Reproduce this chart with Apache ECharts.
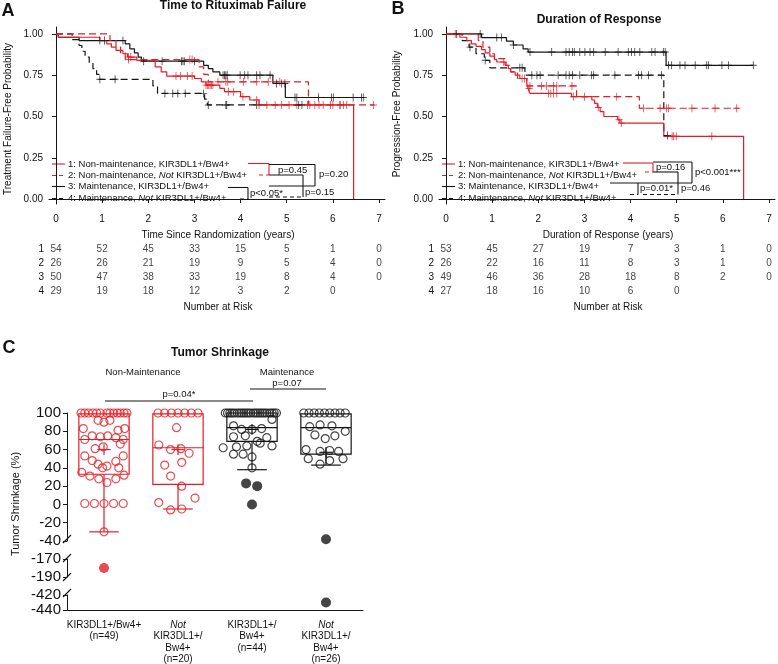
<!DOCTYPE html>
<html><head><meta charset="utf-8">
<script src="https://cdn.jsdelivr.net/npm/echarts@6/dist/echarts.min.js"></script>
<style>html,body{margin:0;padding:0;background:#fff}#c{width:778px;height:664px}</style>
</head><body><div id="c"></div>
<script>
// ---------- DATA ----------
// Panel A: Time to Rituximab Failure (Kaplan-Meier steps [years, probability]; censor times)
const aSteps1 = [[0,1],[0.05,0.98],[0.95,0.96],[1.1,0.94],[1.2,0.92],[1.3,0.9],[1.45,0.88],[1.55,0.86],[1.75,0.84],[2.15,0.8],[2.28,0.77],[2.4,0.745],[3.0,0.73],[3.15,0.71],[3.25,0.69],[3.55,0.67],[3.65,0.65],[4.0,0.62],[4.2,0.6],[4.4,0.57],[6.45,0]];
const aCens1 = [1.57,1.62,2.6,2.7,2.85,2.95,3.25,3.28,3.31,3.34,3.37,3.4,3.74,3.85,4.05,4.35,4.4,4.57,4.75,4.89,5.05,5.22,5.45,5.61,5.79,6.0,6.16,6.23,6.3];
const aSteps2 = [[0,1],[1.17,0.96],[1.3,0.92],[1.4,0.885],[1.5,0.845],[3.1,0.8],[3.2,0.755],[3.3,0.71],[5.47,0.57],[6.9,0.57]];
const aCens2 = [1.57,2.9,2.95,3.51,3.68,3.72,4.06,4.35,4.6,4.85,5.5,5.7,5.95,6.15,6.88];
const aSteps3 = [[0,1],[0.05,0.98],[0.5,0.96],[1.5,0.94],[1.6,0.91],[1.7,0.885],[1.78,0.86],[1.85,0.835],[3.2,0.81],[3.3,0.79],[3.4,0.77],[3.55,0.75],[4.7,0.7],[4.97,0.615],[6.7,0.615]];
const aCens3 = [0.95,1.05,1.45,1.9,2.3,2.72,2.75,2.78,3.0,3.62,3.65,3.68,3.71,3.99,4.09,4.16,4.35,4.42,4.64,4.78,4.89,4.96,5.18,5.22,5.69,5.97,6.01,6.44,6.62,6.66];
const aSteps4 = [[0,1],[0.35,0.965],[0.5,0.93],[0.56,0.895],[0.63,0.86],[0.72,0.825],[0.8,0.79],[0.88,0.755],[0.93,0.725],[2.1,0.685],[2.2,0.64],[3.22,0.605],[3.28,0.57],[5.35,0.57]];
const aCens4 = [0.95,1.28,2.36,2.53,2.64,2.8,3.2,3.3,3.68,3.7,4.35,5.26,5.33];
const aRisk = [[54,52,45,33,15,5,1,0],[26,26,21,19,9,5,4,0],[50,47,38,33,19,8,4,0],[29,19,18,12,3,2,0]];

// Panel B: Duration of Response
const bSteps1 = [[0,1],[0.3,0.98],[0.45,0.96],[0.55,0.94],[0.65,0.925],[0.77,0.905],[0.85,0.885],[0.95,0.865],[1.05,0.845],[1.1,0.83],[1.28,0.81],[1.35,0.79],[1.4,0.77],[1.5,0.75],[1.6,0.73],[1.75,0.7],[1.78,0.67],[1.82,0.64],[2.72,0.62],[3.16,0.6],[3.22,0.58],[3.28,0.555],[3.34,0.53],[3.42,0.5],[3.72,0.48],[3.77,0.46],[4.72,0.38],[6.45,0]];
const bCens1 = [0.2,1.25,1.7,1.8,2.22,2.27,2.33,2.4,2.76,3.0,3.3,3.75,3.8,4.9,4.93,4.99,5.76];
const bSteps2 = [[0,1],[0.7,0.96],[0.8,0.92],[0.95,0.88],[1.05,0.85],[1.3,0.81],[1.4,0.77],[1.55,0.73],[1.75,0.685],[2.83,0.62],[4.19,0.55],[6.35,0.55]];
const bCens2 = [1.65,1.82,2.07,2.18,2.33,2.4,2.73,3.7,4.28,4.64,4.78,4.82,5.33,5.83,6.3];
const bSteps3 = [[0,1],[0.77,0.978],[1.31,0.956],[1.46,0.933],[1.67,0.91],[1.78,0.89],[4.77,0.81],[6.66,0.81]];
const bCens3 = [0.23,0.74,1.1,1.2,1.46,1.82,2.29,2.6,2.67,2.74,2.78,2.9,3.01,3.12,3.2,3.45,3.73,3.95,4.02,4.09,4.2,4.46,4.53,4.71,4.75,4.82,4.89,5.07,5.18,5.4,5.65,5.69,5.98,6.12,6.66];
const bSteps4 = [[0,1],[0.35,0.96],[0.5,0.92],[0.65,0.88],[0.83,0.84],[0.95,0.795],[1.71,0.75],[4.72,0.385],[4.8,0.385]];
const bCens4 = [0.52,0.85,1.6,1.65,1.86,1.97,2.04,2.43,2.6,2.67,2.74,2.9,3.15,3.2,3.66,4.17,4.24,4.39,4.67,4.8];
const bRisk = [[53,45,27,19,7,3,1,0],[26,22,16,11,8,3,1,0],[49,46,36,28,18,8,2,0],[27,18,16,10,6,0]];

const riskTimes = [0,1,2,3,4,5,6,7];
const riskRows = ['1','2','3','4'];
const kmXTicks = [0,1,2,3,4,5,6,7];
const kmYTicks = [0,0.25,0.5,0.75,1];
const legendLabels = ['1: Non-maintenance, KIR3DL1+/Bw4+','2: Non-maintenance, {i|Not} KIR3DL1+/Bw4+','3: Maintenance, KIR3DL1+/Bw4+','4: Maintenance, {i|Not} KIR3DL1+/Bw4+'];

// Panel C: Tumor Shrinkage, points as [jitter offset in group units, % shrinkage]
const cG1Open = [[-0.31,100],[-0.26,100],[-0.21,100],[-0.15,100],[-0.1,100],[-0.05,100],[0.04,100],[0.08,100],[0.13,100],[0.18,100],[0.22,100],[0.27,100],[0.31,100],[-0.08,92],[0,90],[0.08,92],[-0.28,83],[0.19,81],[0.28,83],[-0.16,75],[-0.05,74],[0.05,75],[0.16,73],[-0.26,71],[0.26,71],[-0.12,61],[-0.01,63],[0.22,66],[-0.26,53],[0.26,53],[-0.16,48],[0.16,47],[-0.08,44],[0.04,42],[-0.02,40],[0.2,40],[-0.3,35],[-0.19,31],[-0.07,28],[0.04,24],[0.16,28],[0.27,32],[-0.26,1],[-0.13,1],[0,1],[0.13,1],[0.26,1],[0,-30]];
const cG1Out = [[0,-180]];
const cG2Open = [[-0.27,100],[-0.18,100],[-0.09,100],[0,100],[0.09,100],[0.18,100],[0.27,100],[-0.02,84],[-0.26,65],[-0.1,60],[0.04,61],[0.15,56],[-0.18,43],[0.05,46],[-0.1,31],[0.05,20],[-0.26,2],[0.23,7],[-0.1,-6],[0.05,-5]];
const cG3Open = [[-0.36,100],[-0.33,100],[-0.3,100],[-0.27,100],[-0.24,100],[-0.2,100],[-0.17,100],[-0.14,100],[-0.11,100],[-0.08,100],[-0.05,100],[-0.02,100],[0.02,100],[0.05,100],[0.08,100],[0.11,100],[0.14,100],[0.17,100],[0.2,100],[0.24,100],[0.27,100],[0.3,100],[0.33,100],[0.27,93],[-0.25,86],[-0.14,82],[0,82],[0.13,83],[-0.25,74],[-0.09,75],[0.07,69],[0.2,73],[0.27,64],[-0.39,62],[-0.21,63],[-0.07,64],[0.11,67],[-0.25,55],[-0.12,55],[0,52],[0,40]];
const cG3Out = [[-0.08,23],[0.07,20],[0,0]];
const cG4Open = [[-0.3,100],[-0.23,100],[-0.16,100],[-0.09,100],[-0.02,100],[0.05,100],[0.12,100],[0.19,100],[0.26,100],[-0.22,85],[-0.08,87],[0.08,86],[-0.15,76],[-0.01,72],[0.12,75],[0.26,80],[-0.27,60],[-0.08,58],[0.05,59],[0.17,58],[-0.24,50],[-0.08,44],[0.05,48],[0.23,50]];
const cG4Out = [[0,-38],[0,-430]];
const cBoxMin = [-30,-5,38,43];
const cBoxQ1 = [33,22,69,55];
const cBoxMed = [71,62,84,84];
const cBoxQ3 = [99,99,100,99];
const cBoxMax = [100,100,100,100];
const cBoxMean = [60,60,82,57];
const cCatLabels = ['KIR3DL1+/Bw4+\n(n=49)','{i|Not}\nKIR3DL1+/\nBw4+\n(n=20)','KIR3DL1+/\nBw4+\n(n=44)','{i|Not}\nKIR3DL1+/\nBw4+\n(n=26)'];
const cYTicks1 = [-40,-20,0,20,40,60,80,100];
const cYTicks2 = [-190,-170];
const cYTicks3 = [-440,-420];

// ---------- STYLE / BUILD ----------
const RED = '#e41e26', BLK = '#161616';
const FF = 'Liberation Sans, Arial, Helvetica, sans-serif';
const curveColors = [RED, RED, BLK, BLK];
const curveDash = [false, true, false, true];
const plusPath = 'path://M4.4,0H5.6V10H4.4Z M0,4.4H10V5.6H0Z';

function survAt(steps, t) { let s = steps[0][1]; for (const p of steps) { if (p[0] <= t) s = p[1]; else break; } return s; }

const chart = echarts.init(document.getElementById('c'), null, {renderer: 'canvas', width: 778, height: 664});

const grids = [
  {left: 49, top: 27, width: 336, height: 177},
  {left: 49, top: 242, width: 336, height: 56},
  {left: 439, top: 27, width: 336, height: 177},
  {left: 439, top: 242, width: 336, height: 56},
  {left: 67, top: 413, width: 296, height: 128},
  {left: 67, top: 559, width: 296, height: 18},
  {left: 67, top: 595, width: 296, height: 15}
].map(g => Object.assign({containLabel: false, outerBoundsMode: 'none', show: false}, g));

const axLine = {show: true, lineStyle: {color: BLK, width: 1}};
function kmX(gi) {
  return {type: 'value', gridIndex: gi, min: -0.152, max: 7.13, splitLine: {show: false},
    axisLine: axLine, axisTick: {show: true, inside: false, length: 4, customValues: kmXTicks, lineStyle: {color: BLK}},
    axisLabel: {customValues: kmXTicks, margin: 10, fontSize: 10, color: '#111', fontFamily: FF}};
}
function kmY(gi) {
  return {type: 'value', gridIndex: gi, min: -0.03, max: 1.042, splitLine: {show: false},
    axisLine: axLine, axisTick: {show: true, inside: false, length: 4, customValues: kmYTicks, lineStyle: {color: BLK}},
    axisLabel: {customValues: kmYTicks, margin: 6, fontSize: 10, color: '#111', fontFamily: FF, formatter: v => Number(v).toFixed(2)}};
}
function hiddenX(gi, min, max) { return {type: 'value', gridIndex: gi, min, max, show: false}; }
function riskY(gi) {
  return {type: 'category', gridIndex: gi, data: riskRows, inverse: true, axisLine: {show: false}, axisTick: {show: false},
    splitLine: {show: false}, axisLabel: {margin: 5, fontSize: 10, color: '#111', fontFamily: FF}};
}
function cY(gi, min, max, ticks) {
  return {type: 'value', gridIndex: gi, min, max, splitLine: {show: false}, axisLine: axLine,
    axisTick: {show: true, inside: false, length: 4, customValues: ticks, lineStyle: {color: BLK}},
    axisLabel: {customValues: ticks, margin: 6, fontSize: 15, color: '#111', fontFamily: FF}};
}

const xAxes = [
  kmX(0), hiddenX(1, -0.152, 7.13), kmX(2), hiddenX(3, -0.152, 7.13),
  hiddenX(4, 0.5, 4.5), hiddenX(5, 0.5, 4.5),
  {type: 'value', gridIndex: 6, min: 0.5, max: 4.5, splitLine: {show: false}, axisLine: axLine, axisTick: {show: false},
   axisLabel: {customValues: [1,2,3,4], margin: 9, fontSize: 10, lineHeight: 11.5, color: '#111', fontFamily: FF,
     formatter: v => cCatLabels[Math.round(v) - 1],
     rich: {i: {fontStyle: 'italic', fontSize: 10, lineHeight: 11.5, fontFamily: FF, color: '#111'}}}}
];
const yAxes = [kmY(0), riskY(1), kmY(2), riskY(3), cY(4, -40, 100, cYTicks1), cY(5, -190, -170, cYTicks2), cY(6, -440, -420, cYTicks3)];
yAxes[4].interval = 20;

const series = [];
function addKM(stepsList, censList, gi) {
  stepsList.forEach((steps, i) => {
    series.push({type: 'line', xAxisIndex: gi, yAxisIndex: gi, data: steps, step: 'end', symbol: 'none', silent: true,
      lineStyle: {color: curveColors[i], width: 1.2, type: curveDash[i] ? [7, 4] : 'solid'}, z: 3 + (i < 2 ? 1 : 0)});
    series.push({type: 'scatter', xAxisIndex: gi, yAxisIndex: gi, symbol: plusPath, symbolSize: [7, 8], silent: true,
      data: censList[i].map(t => [t, survAt(steps, t)]), itemStyle: {color: curveColors[i]}, z: 4});
  });
}
addKM([aSteps1, aSteps2, aSteps3, aSteps4], [aCens1, aCens2, aCens3, aCens4], 0);
addKM([bSteps1, bSteps2, bSteps3, bSteps4], [bCens1, bCens2, bCens3, bCens4], 2);

function addRisk(risk, gi) {
  const data = [];
  risk.forEach((row, r) => row.forEach((n, k) => data.push([riskTimes[k], riskRows[r], n])));
  series.push({type: 'scatter', xAxisIndex: gi, yAxisIndex: gi, data, symbolSize: 1, itemStyle: {color: 'rgba(0,0,0,0)'}, silent: true,
    label: {show: true, position: 'inside', formatter: p => String(p.value[2]), fontSize: 10, color: '#111', fontFamily: FF}});
}
addRisk(aRisk, 1);
addRisk(bRisk, 3);

// Panel C boxes
const boxColors = [RED, RED, BLK, BLK];
series.push({type: 'custom', xAxisIndex: 4, yAxisIndex: 4, silent: true, z: 2,
  data: cBoxMin.map((m, i) => [i + 1, m, cBoxQ1[i], cBoxMed[i], cBoxQ3[i], cBoxMax[i], cBoxMean[i]]),
  renderItem: (params, api) => {
    const g = api.value(0);
    const unit = api.size([1, 0])[0];
    const hw = unit * 0.34, cw = unit * 0.2, mw = unit * 0.09;
    const P = v => api.coord([g, v]);
    const cx = P(0)[0];
    const yMin = P(api.value(1))[1], yQ1 = P(api.value(2))[1], yMed = P(api.value(3))[1], yQ3 = P(api.value(4))[1], yMax = P(api.value(5))[1], yMean = P(api.value(6))[1];
    const st = {stroke: boxColors[params.dataIndex], lineWidth: 1.2, fill: null};
    const L = (x1, y1, x2, y2) => ({type: 'line', shape: {x1, y1, x2, y2}, style: st});
    return {type: 'group', children: [
      {type: 'rect', shape: {x: cx - hw, y: yQ3, width: 2 * hw, height: yQ1 - yQ3}, style: st},
      L(cx - hw, yMed, cx + hw, yMed),
      L(cx, yQ1, cx, yMin), L(cx - cw, yMin, cx + cw, yMin),
      L(cx, yQ3, cx, yMax),
      L(cx - mw, yMean, cx + mw, yMean), L(cx, yMean - mw * 0.8, cx, yMean + mw * 0.8)
    ]};
  }});
function addPts(pts, g, gi, color, filled, size) {
  series.push({type: 'scatter', xAxisIndex: gi, yAxisIndex: gi, silent: true, z: 5, symbol: 'circle', symbolSize: size,
    data: pts.map(p => [g + p[0], p[1]]),
    itemStyle: filled ? {color} : {color: 'rgba(255,255,255,0)', borderColor: color, borderWidth: 1.2}});
}
addPts(cG1Open, 1, 4, RED, false, 8);
addPts(cG2Open, 2, 4, RED, false, 8);
addPts(cG3Open, 3, 4, BLK, false, 8);
addPts(cG4Open, 4, 4, BLK, false, 8);
addPts(cG3Out, 3, 4, BLK, true, 10);
addPts(cG4Out.filter(p => p[1] >= -40), 4, 4, BLK, true, 10);
addPts(cG1Out, 1, 5, RED, true, 10);
addPts(cG4Out.filter(p => p[1] < -400), 4, 6, BLK, true, 10);

// ---------- ANNOTATIONS ----------
const G = [];
const txt = (text, x, y, opt = {}) => G.push({type: 'text', x, y, rotation: opt.rot || 0, silent: true,
  style: {text, x: 0, y: 0, fill: '#111', font: (opt.bold ? 'bold ' : '') + (opt.italic ? 'italic ' : '') + (opt.size || 10) + 'px ' + FF,
    textAlign: opt.align || 'center', textVerticalAlign: 'middle', verticalAlign: 'middle',
    rich: {i: {fontStyle: 'italic', fontSize: opt.size || 10, fontFamily: FF, fill: '#111'}}}});
const ln = (x1, y1, x2, y2, color, dashed) => G.push({type: 'line', silent: true, shape: {x1, y1, x2, y2},
  style: {stroke: color, lineWidth: 1.1, lineDash: dashed ? [4, 3] : null}});

txt('A', 8, 11, {bold: true, size: 18});
txt('B', 398, 9, {bold: true, size: 18});
txt('C', 9, 348, {bold: true, size: 18});
txt('Time to Rituximab Failure', 233, 6, {bold: true, size: 12});
txt('Duration of Response', 599, 20, {bold: true, size: 12});
txt('Treatment Failure-Free Probability', 8, 119, {rot: Math.PI / 2, size: 10});
txt('Progression-Free Probability', 397, 114, {rot: Math.PI / 2, size: 10});
txt('Time Since Randomization (years)', 218, 235);
txt('Number at Risk', 218, 307);
txt('Duration of Response (years)', 608, 235);
txt('Number at Risk', 608, 307);

const legRowY = [164, 175.5, 186.5, 198.5];
function legend(x0) {
  legendLabels.forEach((s, i) => {
    ln(x0, legRowY[i], x0 + 13, legRowY[i], curveColors[i], curveDash[i]);
    txt(s, x0 + 16, legRowY[i], {align: 'left', size: 9.5});
  });
}
legend(52); legend(442);

[[248,163.5,269,163.5,RED,0],[269,163.5,269,175,RED,0],[259,175,269,175,RED,1],
 [269,164.5,315,164.5,BLK,0],[315,164.5,315,186,BLK,0],[269,186,315,186,BLK,0],
 [269,175,303,175,BLK,0],[303,175,303,197,BLK,0],[269,197,303,197,BLK,1],
 [228,187.5,248,187.5,BLK,0],[248,187.5,248,199,BLK,0],[240,199,248,199,BLK,1],
 [623,163,653,163,RED,0],[653,163,653,172,RED,0],[645,172,653,172,RED,1],
 [653,162,692,162,BLK,0],[692,162,692,183,BLK,0],[610,183,692,183,BLK,0],
 [653,172,678,172,BLK,0],[678,172,678,194.5,BLK,0],[643,194.5,678,194.5,BLK,1],
 [638,183,638,194.5,BLK,0],[630,194.5,638,194.5,BLK,1]].forEach(a => ln(...a));
[['p=0.45',278,170],['p=0.20',319,174],['p=0.15',305,192],['p<0.05*',250,193],
 ['p=0.16',656,167.5],['p<0.001***',695,172],['p=0.01*',640,188.5],['p=0.46',681,188.5]]
  .forEach(a => txt(a[0], a[1], a[2], {align: 'left', size: 9.5}));

txt('Tumor Shrinkage', 220, 353, {bold: true, size: 12});
txt('Non-Maintenance', 143, 372, {size: 9.5});
txt('Maintenance', 287, 372, {size: 9.5});
txt('p=0.07', 287, 383, {size: 9.5});
ln(250, 389, 326, 389, BLK, 0);
txt('p=0.04*', 179, 394, {size: 9.5});
ln(105, 401, 253, 401, BLK, 0);
txt('Tumor Shrinkage (%)', 16, 504, {rot: Math.PI / 2, size: 11});
[539, 558, 577, 593].forEach(y => ln(63, y + 4, 71, y - 4, BLK, 0));

chart.setOption({
  animation: false, backgroundColor: '#fff',
  textStyle: {fontFamily: FF},
  grid: grids, xAxis: xAxes, yAxis: yAxes, series, graphic: G
});
</script></body></html>
